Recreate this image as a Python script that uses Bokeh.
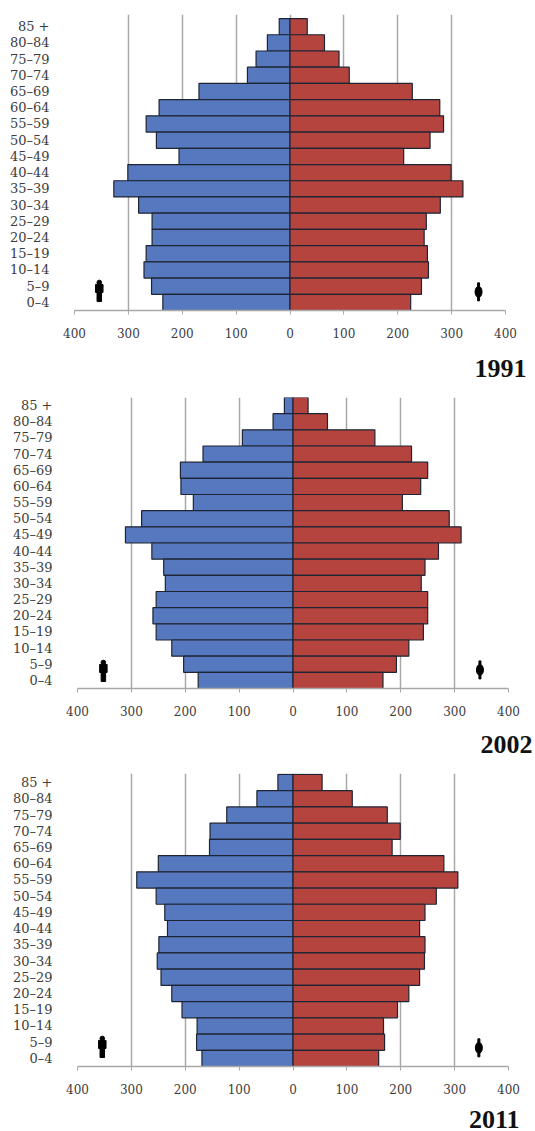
from bokeh.plotting import figure
from bokeh.layouts import column
from bokeh.models import Range1d, FixedTicker, Title
from bokeh.embed import file_html
from bokeh.resources import INLINE

ages = ["0–4","5–9","10–14","15–19","20–24","25–29","30–34","35–39","40–44",
        "45–49","50–54","55–59","60–64","65–69","70–74","75–79","80–84","85 +"]

# Values listed from the top row (85 +) to the bottom row (0–4)
male_1991 = [20,42,63,79,169,243,267,248,206,301,327,281,256,256,267,271,257,236]
female_1991 = [32,64,91,110,227,278,285,260,211,299,321,279,253,249,255,257,244,224]
male_2002 = [16,37,94,167,209,208,185,281,311,262,240,237,254,260,254,225,203,176]
female_2002 = [28,64,152,220,250,237,203,290,312,270,245,238,250,250,242,215,192,167]
male_2011 = [28,67,123,154,155,250,290,254,238,233,249,252,245,225,206,178,179,169]
female_2011 = [54,110,175,199,184,280,306,266,245,235,245,244,235,215,194,168,170,159]

x_ticks = [-400,-300,-200,-100,0,100,200,300,400]
BLUE, RED, EDGE = "#5678bf", "#b5443f", "#1e2433"
GRID, TXT = "#a8a8a8", "#3c3c3c"
W = 535

def panel(year, male, female, h, top, bottom, left, right, extra, year_off, year_gap, mx, fx, icon_dy=0.0):
    p = figure(width=W, height=h, output_backend="svg", toolbar_location=None,
               x_range=Range1d(-400, 400), y_range=Range1d(-0.5, 17.5 + extra),
               min_border_top=top, min_border_bottom=bottom,
               min_border_left=left, min_border_right=right, frame_align=False,
               outline_line_color=None, background_fill_color="white")
    y = list(range(17, -1, -1))
    p.hbar(y=y, left=[-v for v in male], right=[0]*18, height=1.0,
           fill_color=BLUE, line_color=EDGE, line_width=1.2)
    p.hbar(y=y, left=[0]*18, right=female, height=1.0,
           fill_color=RED, line_color=EDGE, line_width=1.2)

    p.xaxis.ticker = FixedTicker(ticks=x_ticks)
    p.xaxis.major_label_overrides = {t: str(abs(t)) for t in x_ticks}
    p.xaxis.axis_line_color = GRID
    p.xaxis.axis_line_width = 1.5
    p.xaxis.major_tick_line_color = GRID
    p.xaxis.major_tick_out = 4
    p.xaxis.major_tick_in = 0
    p.xaxis.minor_tick_line_color = None
    p.xaxis.major_label_standoff = 13
    p.xaxis.major_label_text_font = "DejaVu Serif"
    p.xaxis.major_label_text_font_size = "12px"
    p.xaxis.major_label_text_color = TXT

    p.yaxis.ticker = FixedTicker(ticks=list(range(18)))
    p.yaxis.major_label_overrides = {i: a for i, a in enumerate(ages)}
    p.yaxis.axis_line_color = None
    p.yaxis.major_tick_line_color = None
    p.yaxis.minor_tick_line_color = None
    p.yaxis.major_label_standoff = 19
    p.yaxis.major_label_text_font = "DejaVu Serif"
    p.yaxis.major_label_text_font_size = "13px"
    p.yaxis.major_label_text_color = TXT

    p.xgrid.ticker = FixedTicker(ticks=x_ticks)
    p.xgrid.grid_line_color = GRID
    p.xgrid.grid_line_width = 1.5
    p.ygrid.grid_line_color = None

    # man icon
    p.circle(x=[mx], y=[1.23 + icon_dy], radius=2.3, radius_units="screen", color="black")
    p.rect(x=[mx], y=[0.86 + icon_dy], width=7.5, height=8, width_units="screen", height_units="screen",
           color="black")
    p.rect(x=[mx], y=[0.33 + icon_dy], width=4.5, height=9, width_units="screen",
           height_units="screen", color="black")
    # woman icon
    p.ellipse(x=[fx], y=[0.65], width=7, height=11, width_units="screen", height_units="screen",
              color="black")
    p.rect(x=[fx], y=[0.65], width=2, height=18, width_units="screen", height_units="screen",
           color="black")

    p.add_layout(Title(text=year, align="right", offset=year_off, standoff=year_gap,
                       text_font="Liberation Serif", text_font_style="bold",
                       text_font_size="26px", text_line_height=1.0, text_color="#111111"), "below")
    return p

p1 = panel("1991", male_1991, female_1991, 394, 14, 84, 74, 30, 0.25, -21, 35, -354, 350)
p2 = panel("2002", male_2002, female_2002, 373, 3, 79, 77, 27, 0.0, -24, 30, -352, 347, -0.12)
p3 = panel("2011", male_2011, female_2011, 364, 6, 65, 77, 27, 0.06, -11, 24, -354, 345)
p3.frame_height = 293

page = column(p1, p2, p3, spacing=0)
open("out.html", "w").write(file_html(page, INLINE))
